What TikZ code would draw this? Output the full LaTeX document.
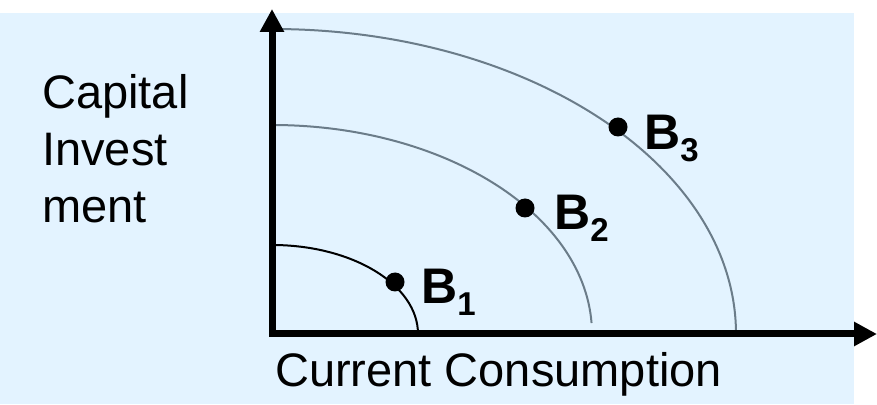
\documentclass[tikz,border=0pt]{standalone}
\usepackage{fontspec}
\setmainfont{Liberation Sans}
\usetikzlibrary{arrows.meta}

\definecolor{panelblue}{RGB}{227,243,255}
\definecolor{curvegray}{RGB}{107,124,137}
\newcommand{\bsub}[1]{B\raisebox{-12pt}{\fontsize{33}{33}\selectfont #1}}

\begin{document}
\begin{tikzpicture}[x=1pt,y=1pt]
    \tikzset{
    axis/.style={line width=7pt, {Triangle[length=23pt,width=23pt]}-{Triangle[length=23pt,width=23pt]}},
    frontier/.style={line width=2pt, curvegray},
    point/.style={circle, fill=black, inner sep=0pt, minimum size=19pt},
    plabel/.style={anchor=base west, inner sep=0pt, font=\fontsize{50}{50}\selectfont\bfseries},
    axlabel/.style={inner sep=0pt, font=\fontsize{47}{57}\selectfont}
    }
        \useasboundingbox (0,0) rectangle (877,404);
        \fill[panelblue] (0,0) rectangle (854,391);

        \coordinate (origin) at (272,70);
        \coordinate (yend) at (272,395);
        \coordinate (xend) at (877,70);
        \coordinate (top1) at (272,159);
        \coordinate (top2) at (272,279);
        \coordinate (top3) at (272,375);

        % frontiers
        \draw[line width=2pt] (top1) arc[start angle=90, end angle=0, x radius=146pt, y radius=89pt];
        \draw[frontier] (top2) arc[start angle=90, end angle=3, x radius=320pt, y radius=209pt];
        \draw[frontier] (top3) arc[start angle=90, end angle=0, x radius=464pt, y radius=305pt];

        \draw[axis] (yend) -- (origin) -- (xend);

        \node (b1)[point] at (395,122) {};
        \node (b2)[point] at (525,196) {};
        \node (b3)[point] at (618,277) {};

        \node (lb1)[plabel] at (421,100) {\bsub{1}};
        \node (lb2)[plabel] at (554,174) {\bsub{2}};
        \node (lb3)[plabel] at (644,254) {\bsub{3}};

        \node (ylab)[axlabel, anchor=north west, align=left] at (42,330) {Capital\\Invest\\ment};
        \node (xlab)[axlabel, anchor=base west] at (275,18) {Current Consumption};
    \end{tikzpicture}
\end{document}
